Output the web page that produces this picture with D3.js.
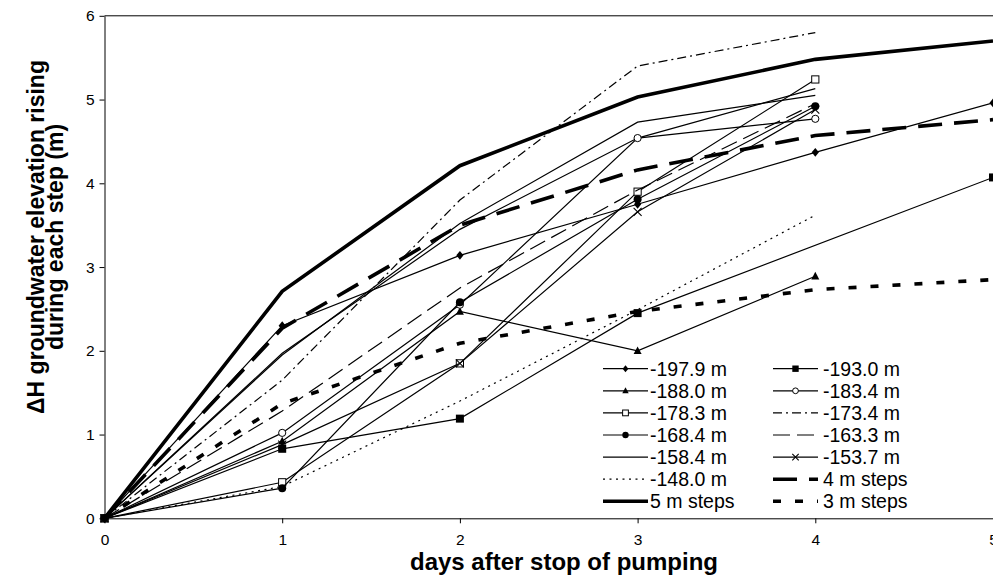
<!DOCTYPE html>
<html>
<head>
<meta charset="utf-8">
<script src="https://cdn.jsdelivr.net/npm/d3@7"></script>
<style>
  body{margin:0;background:#fff}
  svg{display:block;font-family:"Liberation Sans",Arial,sans-serif}
</style>
</head>
<body>
<div id="chart"></div>
<script>
/* ΔH groundwater rise after each pumping step */
const days   = [0,1,2,3,4,5];
const yTicks = [0,1,2,3,4,5,6];

const labels = ['-197.9 m','-193.0 m','-188.0 m','-183.4 m','-178.3 m','-173.4 m','-168.4 m',
                '-163.3 m','-158.4 m','-153.7 m','-148.0 m','4 m steps','5 m steps','3 m steps'];

const v1979 = [0,2.30,3.14,3.75,4.37,4.96];
const v1930 = [0,0.83,1.19,2.45,null,4.07];
const v1880 = [0,0.92,2.47,2.00,2.89];
const v1834 = [0,1.02,2.55,4.54,4.77];
const v1783 = [0,0.43,1.85,3.90,5.24];
const v1734 = [0,1.65,3.80,5.40,5.80];
const v1684 = [0,0.36,2.58,3.81,4.92];
const v1633 = [0,1.28,2.75,3.92,4.95];
const v1584 = [0,1.95,3.52,4.73,5.05];
const v1537 = [0,0.88,1.85,3.66,4.88];
const v1480 = [0,0.38,1.40,2.49,3.62];
const v4m   = [0,2.27,3.50,4.16,4.57,4.76];
const v5m   = [0,2.71,4.21,5.03,5.48,5.70];
const v3m   = [0,1.37,2.09,2.47,2.73,2.85];
// a plain thin line drawn in the plot that has no legend entry
const vExtra = [0,1.97,3.45,4.54,5.13];

const values = [v1979,v1930,v1880,v1834,v1783,v1734,v1684,v1633,v1584,v1537,v1480,v4m,v5m,v3m];

// look per series: marker / dash / width
const look = {
  '-197.9 m':{mk:'diamond'}, '-193.0 m':{mk:'fsquare'}, '-188.0 m':{mk:'triangle'},
  '-183.4 m':{mk:'ocircle'}, '-178.3 m':{mk:'osquare'}, '-173.4 m':{dash:'9,4,2,4'},
  '-168.4 m':{mk:'fcircle'}, '-163.3 m':{dash:'17,7'},  '-158.4 m':{},
  '-153.7 m':{mk:'x'},       '-148.0 m':{dash:'2,4.5'},
  '4 m steps':{dash:'24,12',w:3.6}, '5 m steps':{w:3.6}, '3 m steps':{dash:'8,14',w:3.6}
};

const W=993, H=578;
const x=d3.scaleLinear().domain([0,5]).range([104.5,993]);
const y=d3.scaleLinear().domain([0,6]).range([518.3,15.8]);

const svg=d3.select('#chart').append('svg').attr('width',W).attr('height',H);

function marker(g,type,cx,cy,k=1){
  const r=4*k;
  if(type==='diamond') g.append('path').attr('d',`M${cx},${cy-r*1.1}L${cx+r*0.9},${cy}L${cx},${cy+r*1.1}L${cx-r*0.9},${cy}Z`).attr('fill','#000');
  else if(type==='fsquare') g.append('rect').attr('x',cx-r).attr('y',cy-r).attr('width',2*r).attr('height',2*r).attr('fill','#000');
  else if(type==='triangle') g.append('path').attr('d',`M${cx},${cy-r*1.1}L${cx+r},${cy+r*0.8}L${cx-r},${cy+r*0.8}Z`).attr('fill','#000');
  else if(type==='ocircle') g.append('circle').attr('cx',cx).attr('cy',cy).attr('r',r*0.9).attr('fill','#fff').attr('stroke','#000').attr('stroke-width',1);
  else if(type==='osquare') g.append('rect').attr('x',cx-r*0.9).attr('y',cy-r*0.9).attr('width',1.8*r).attr('height',1.8*r).attr('fill','#fff').attr('stroke','#000').attr('stroke-width',1);
  else if(type==='fcircle') g.append('circle').attr('cx',cx).attr('cy',cy).attr('r',r).attr('fill','#000');
  else if(type==='x') g.append('path').attr('d',`M${cx-r},${cy-r}L${cx+r},${cy+r}M${cx-r},${cy+r}L${cx+r},${cy-r}`).attr('stroke','#000').attr('stroke-width',1.1);
}

// axes
const ax=svg.append('g').attr('transform',`translate(0,${y(0)})`)
  .call(d3.axisBottom(x).tickValues(days).tickFormat(d3.format('d')).tickSize(5).tickSizeOuter(0).tickPadding(11));
const ay=svg.append('g').attr('transform',`translate(${x(0)},0)`)
  .call(d3.axisLeft(y).tickValues(yTicks).tickFormat(d3.format('d')).tickSize(5).tickSizeOuter(0).tickPadding(5));
[ax,ay].forEach(a=>{
  a.selectAll('path,line').attr('stroke','#000').attr('stroke-width',1);
  a.selectAll('text').attr('font-size',15.5).attr('fill','#000').attr('font-family','"Liberation Sans",Arial,sans-serif');
});
svg.append('line').attr('x1',x(0)).attr('x2',x(5)).attr('y1',y(6)).attr('y2',y(6)).attr('stroke','#000');

// lines
const line=d3.line().x(d=>x(d[0])).y(d=>y(d[1]));
const plot=svg.append('g');
function drawSeries(vals,st){
  const pts=vals.map((v,i)=>[days[i],v]).filter(d=>d[1]!=null);
  plot.append('path').attr('d',line(pts)).attr('fill','none').attr('stroke','#000')
    .attr('stroke-width',st.w||1.2).attr('stroke-dasharray',st.dash||null);
  if(st.mk) pts.forEach(d=>marker(plot,st.mk,x(d[0]),y(d[1])));
}
drawSeries(vExtra,{});
labels.forEach((lb,i)=>drawSeries(values[i],look[lb]));

// legend (two columns, row-major)
const leg=svg.append('g');
labels.forEach((lb,i)=>{
  const col=i%2, row=Math.floor(i/2);
  const x0=col? 773:603, x1=col? 818:648, cy=368.7+row*22.1;
  const st=look[lb];
  leg.append('line').attr('x1',x0).attr('x2',x1).attr('y1',cy).attr('y2',cy).attr('stroke','#000')
    .attr('stroke-width',st.w||1.2).attr('stroke-dasharray',st.dash||null);
  if(st.mk) marker(leg,st.mk,(x0+x1)/2,cy,0.8);
  leg.append('text').attr('x',col? 823:650).attr('y',cy+6.8).attr('font-size',19.5).text(lb);
});

// titles
svg.append('text').attr('x',564).attr('y',570).attr('text-anchor','middle')
  .attr('font-size',24).attr('font-weight','bold').text('days after stop of pumping');
const yt=svg.append('text').attr('transform','translate(0,237) rotate(-90)')
  .attr('text-anchor','middle').attr('font-size',23).attr('font-weight','bold');
yt.append('tspan').attr('x',0).attr('y',44).text('ΔH groundwater elevation rising');
yt.append('tspan').attr('x',0).attr('y',63).text('during each step (m)');
</script>
</body>
</html>
